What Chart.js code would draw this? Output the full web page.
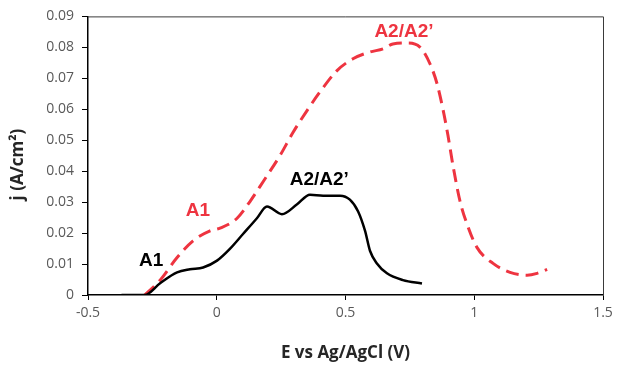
<!DOCTYPE html>
<html>
<head>
<meta charset="utf-8">
<script src="https://cdn.jsdelivr.net/npm/chart.js@4/dist/chart.umd.min.js"></script>
<style>
  html, body { margin: 0; padding: 0; background: #fff; }
  #wrap { width: 622px; height: 368px; }
</style>
</head>
<body>
<div id="wrap"><canvas id="myChart" width="622" height="368"></canvas></div>
<script>
// black curve (solid)
var blackE = [-0.37, -0.28, -0.22, -0.154, -0.104, -0.053, 0.001, 0.051, 0.102, 0.156, 0.195, 0.253, 0.312, 0.362, 0.413, 0.479, 0.517, 0.549, 0.576, 0.595, 0.622, 0.661, 0.723, 0.797];
var blackJ = [0, 0, 0.0038, 0.0073, 0.0083, 0.0089, 0.0111, 0.0149, 0.0197, 0.0248, 0.0286, 0.0261, 0.0293, 0.0324, 0.0321, 0.0321, 0.0308, 0.027, 0.0207, 0.0143, 0.0102, 0.007, 0.0048, 0.0037];

// red curve (dashed)
var redE = [-0.28, -0.22, -0.154, -0.092, -0.026, 0.013, 0.079, 0.129, 0.18, 0.246, 0.296, 0.35, 0.40, 0.467, 0.529, 0.595, 0.646, 0.684, 0.739, 0.789, 0.828, 0.855, 0.879, 0.898, 0.917, 0.945, 0.972, 1.011, 1.073, 1.139, 1.205, 1.244, 1.283];
var redJ = [0, 0.0048, 0.0121, 0.0175, 0.0207, 0.0216, 0.0248, 0.0302, 0.0366, 0.0451, 0.0525, 0.0595, 0.0655, 0.0725, 0.0763, 0.0785, 0.0795, 0.0811, 0.0814, 0.0801, 0.0747, 0.0684, 0.0598, 0.0515, 0.042, 0.0302, 0.0229, 0.0153, 0.0102, 0.0073, 0.0064, 0.007, 0.0083];

var xTicks = [-0.5, 0, 0.5, 1, 1.5];
var yTicks = [0, 0.01, 0.02, 0.03, 0.04, 0.05, 0.06, 0.07, 0.08, 0.09];

var peakLabels = [
    {text: 'A1', x: -0.255, y: 0.0111, color: '#000000'},
    {text: 'A1', x: -0.073, y: 0.0273, color: '#ee3440'},
    {text: 'A2/A2\u2019', x: 0.398, y: 0.0372, color: '#000000'},
    {text: 'A2/A2\u2019', x: 0.727, y: 0.0849, color: '#ee3440'}
];

var RED = '#ee3440';

function toPoints(xs, ys) {
    return xs.map(function(x, i) { return {x: x, y: ys[i]}; });
}

// top + right frame of the plot area, and the peak labels
var framePlugin = {
    id: 'frame',
    afterDatasetsDraw: function(chart) {
        var ctx = chart.ctx, a = chart.chartArea;
        ctx.save();
        ctx.strokeStyle = '#3a3a3a';
        ctx.lineWidth = 1;
        ctx.beginPath();
        ctx.moveTo(a.left, a.top + 0.5);
        ctx.lineTo(a.right + 0.5, a.top + 0.5);
        ctx.lineTo(a.right + 0.5, a.bottom);
        ctx.stroke();

        ctx.font = 'bold 19px "Liberation Sans", Arial, sans-serif';
        ctx.textAlign = 'center';
        ctx.textBaseline = 'middle';
        peakLabels.forEach(function(l) {
            ctx.fillStyle = l.color;
            ctx.fillText(l.text, chart.scales.x.getPixelForValue(l.x), chart.scales.y.getPixelForValue(l.y));
        });
        ctx.restore();
    }
};

document.addEventListener('DOMContentLoaded', function() {
    var myChart = document.getElementById('myChart');
    new Chart(myChart, {
        type: 'scatter',
        data: {
            datasets: [
                {
                    label: 'black',
                    data: toPoints(blackE, blackJ),
                    showLine: true,
                    borderColor: '#000000',
                    borderWidth: 2.5,
                    pointRadius: 0,
                    cubicInterpolationMode: 'monotone'
                },
                {
                    label: 'red',
                    data: toPoints(redE, redJ),
                    showLine: true,
                    borderColor: RED,
                    borderWidth: 3,
                    borderDash: [13, 7],
                    pointRadius: 0,
                    cubicInterpolationMode: 'monotone'
                }
            ]
        },
        options: {
            responsive: false,
            animation: false,
            devicePixelRatio: 1,
            layout: {padding: {left: 0, top: 12, right: 19, bottom: 0}},
            plugins: {legend: {display: false}, tooltip: {enabled: false}},
            scales: {
                x: {
                    type: 'linear',
                    min: -0.5,
                    max: 1.5,
                    afterBuildTicks: function(s) { s.ticks = xTicks.map(function(v) { return {value: v}; }); },
                    afterFit: function(s) { s.height = 73; },
                    grid: {drawOnChartArea: false, drawTicks: true, tickLength: 5, color: '#000000'},
                    border: {display: true, color: '#000000', width: 1.5},
                    ticks: {
                        color: '#595959',
                        padding: 5,
                        font: {family: '"Open Sans", sans-serif', size: 14},
                        callback: function(v) { return String(v); }
                    },
                    title: {
                        display: true,
                        text: 'E vs Ag/AgCl (V)',
                        color: '#262626',
                        font: {family: '"Open Sans", sans-serif', size: 17, weight: 'bold'},
                        padding: {top: 0, bottom: 5}
                    }
                },
                y: {
                    type: 'linear',
                    min: 0,
                    max: 0.09,
                    afterBuildTicks: function(s) { s.ticks = yTicks.map(function(v) { return {value: v}; }); },
                    afterFit: function(s) { s.width = 88; },
                    grid: {drawOnChartArea: false, drawTicks: true, tickLength: 6, color: '#000000'},
                    border: {display: true, color: '#000000', width: 1.5},
                    ticks: {
                        color: '#595959',
                        padding: 8,
                        font: {family: '"Open Sans", sans-serif', size: 14},
                        callback: function(v) { return v === 0 ? '0' : v.toFixed(2); }
                    },
                    title: {
                        display: true,
                        text: 'j (A/cm\u00b2)    ',
                        color: '#262626',
                        font: {family: '"Open Sans", sans-serif', size: 17, weight: 'bold'},
                        padding: {top: 8, bottom: 0}
                    }
                }
            }
        },
        plugins: [framePlugin]
    });
});
</script>
</body>
</html>
